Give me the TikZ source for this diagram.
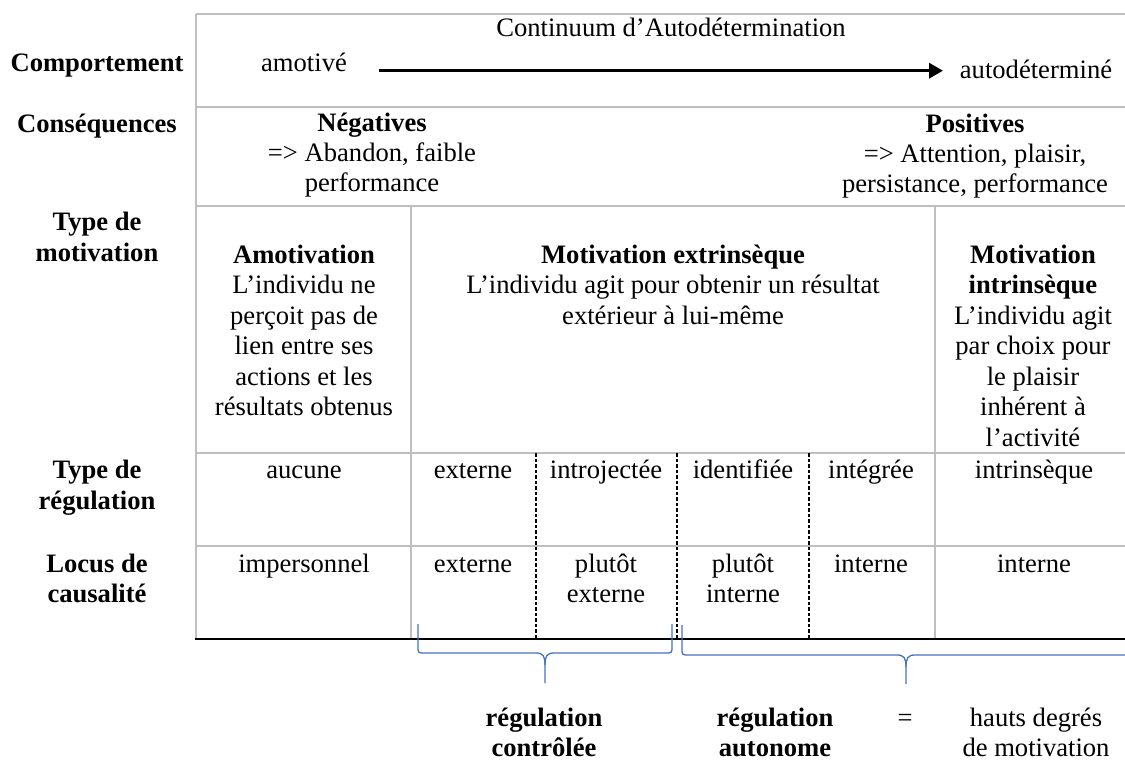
\documentclass[tikz,border=0pt]{standalone}
\usepackage{fontspec}
\setmainfont{Liberation Serif}
\usetikzlibrary{arrows.meta}
\definecolor{gridgray}{RGB}{191,191,191}
\definecolor{braceblue}{RGB}{68,114,196}
\tikzset{
  txt/.style={font=\fontsize{26.6}{30.5}\selectfont, inner sep=0pt, anchor=base},
  btxt/.style={font=\fontsize{26.6}{30.5}\selectfont\bfseries, inner sep=0pt, anchor=base},
  gridline/.style={draw=gridgray, line width=1.4pt},
  dashline/.style={draw=black, line width=1.2pt, dash pattern=on 3.5pt off 2pt},
  rule/.style={draw=black, line width=2pt},
  bracepath/.style={draw=braceblue, line width=1.3pt, line join=round},
  bigarrow/.style={draw=black, line width=3.3pt, -{Triangle[length=14pt,width=15pt]}}
}
\begin{document}
\begin{tikzpicture}[x=1pt,y=-1pt]
\useasboundingbox (0,0) rectangle (1125,760);
\clip (0,0) rectangle (1125,760);
% grid
\draw[gridline] (196,14) -- (1125,14);
\draw[gridline] (196,107) -- (1125,107);
\draw[gridline] (196,206) -- (1125,206);
\draw[gridline] (196,453) -- (1125,453);
\draw[gridline] (196,546) -- (1125,546);
\draw[gridline] (196,14) -- (196,639);
\draw[gridline] (411,206) -- (411,639);
\draw[gridline] (935,206) -- (935,639);
\draw[dashline] (536,453) -- (536,639);
\draw[dashline] (677,453) -- (677,639);
\draw[dashline] (809,453) -- (809,639);
\draw[rule] (195,639) -- (1125,639);
% left labels
\node[btxt] (lc) at (97,71) {Comportement};
\node[btxt] (lq) at (97,132) {Conséquences};
\node[btxt] (ltm1) at (97,230) {Type de};
\node[btxt] (ltm2) at (97,261) {motivation};
\node[btxt] (ltr1) at (97,478) {Type de};
\node[btxt] (ltr2) at (97,509) {régulation};
\node[btxt] (llc1) at (97,572) {Locus de};
\node[btxt] (llc2) at (97,602) {causalité};
% row 1
\node[txt] (cont) at (671,37) {Continuum d’Autodétermination};
\node[txt] (amo) at (304,71) {amotivé};
\node[txt] (auto) at (1036,78) {autodéterminé};
\coordinate (arrS) at (379,70.7);
\coordinate (arrE) at (943,70.7);
\draw[bigarrow] (arrS) -- (arrE);
% row 2
\node[btxt] (neg1) at (372,131) {Négatives};
\node[txt] (neg2) at (372,161) {=> Abandon, faible};
\node[txt] (neg3) at (372,191) {performance};
\node[btxt] (pos1) at (975,132) {Positives};
\node[txt] (pos2) at (975,162) {=> Attention, plaisir,};
\node[txt] (pos3) at (975,192) {persistance, performance};
% row 3
\node[btxt] (am1) at (304,263) {Amotivation};
\node[txt] (am2) at (304,293) {L’individu ne};
\node[txt] (am3) at (304,324) {perçoit pas de};
\node[txt] (am4) at (304,354) {lien entre ses};
\node[txt] (am5) at (304,385) {actions et les};
\node[txt] (am6) at (304,415) {résultats obtenus};
\node[btxt] (ex1) at (673,263) {Motivation extrinsèque};
\node[txt] (ex2) at (673,293) {L’individu agit pour obtenir un résultat};
\node[txt] (ex3) at (673,324) {extérieur à lui-même};
\node[btxt] (in1) at (1033,263) {Motivation};
\node[btxt] (in2) at (1033,293) {intrinsèque};
\node[txt] (in3) at (1033,324) {L’individu agit};
\node[txt] (in4) at (1033,354) {par choix pour};
\node[txt] (in5) at (1033,385) {le plaisir};
\node[txt] (in6) at (1033,415) {inhérent à};
\node[txt] (in7) at (1033,446) {l’activité};
% row 4
\node[txt] (r1) at (304,478) {aucune};
\node[txt] (r2) at (473,478) {externe};
\node[txt] (r3) at (606,478) {introjectée};
\node[txt] (r4) at (743,478) {identifiée};
\node[txt] (r5) at (871,478) {intégrée};
\node[txt] (r6) at (1034,478) {intrinsèque};
% row 5
\node[txt] (c1) at (304,572) {impersonnel};
\node[txt] (c2) at (473,572) {externe};
\node[txt] (c3a) at (606,572) {plutôt};
\node[txt] (c3b) at (606,602) {externe};
\node[txt] (c4a) at (743,572) {plutôt};
\node[txt] (c4b) at (743,602) {interne};
\node[txt] (c5) at (871,572) {interne};
\node[txt] (c6) at (1034,572) {interne};
% braces
\draw[bracepath] (418,624) -- (418,646) .. controls (418,653) .. (425,653) -- (536,653)
  .. controls (543,653) and (545,656) .. (545,665) -- (545,683);
\draw[bracepath] (672,624) -- (672,646) .. controls (672,653) .. (665,653) -- (554,653)
  .. controls (547,653) and (545,656) .. (545,665);
\draw[bracepath] (682,625) -- (682,648) .. controls (682,655) .. (689,655) -- (897,655)
  .. controls (904,655) and (906,658) .. (906,667) -- (906,684);
\draw[bracepath] (1130,625) -- (1130,648) .. controls (1130,655) .. (1123,655) -- (915,655)
  .. controls (908,655) and (906,658) .. (906,667);
% bottom labels
\node[btxt] (rc1) at (544,726) {régulation};
\node[btxt] (rc2) at (544,756) {contrôlée};
\node[btxt] (ra1) at (775,726) {régulation};
\node[btxt] (ra2) at (775,756) {autonome};
\node[txt] (eq) at (905,726) {=};
\node[txt] (hd1) at (1036,726) {hauts degrés};
\node[txt] (hd2) at (1036,756) {de motivation};
\end{tikzpicture}
\end{document}
